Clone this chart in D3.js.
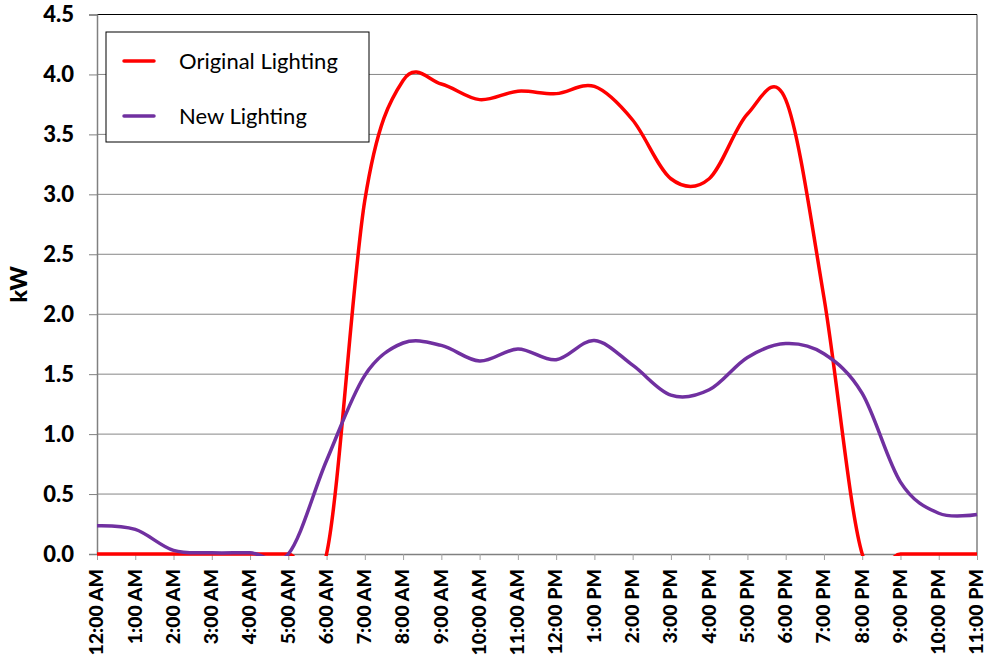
<!DOCTYPE html>
<html>
<head>
<meta charset="utf-8">
<script src="https://cdn.jsdelivr.net/npm/d3@7"></script>
<style>
  body { margin: 0; background: #fff; }
  svg { display: block; font-family: Lato, "Open Sans", sans-serif; }
</style>
</head>
<body>
<div id="chart"></div>
<script>
// hours of the day (category labels)
var hours = ["12:00 AM", "1:00 AM", "2:00 AM", "3:00 AM", "4:00 AM", "5:00 AM",
  "6:00 AM", "7:00 AM", "8:00 AM", "9:00 AM", "10:00 AM", "11:00 AM",
  "12:00 PM", "1:00 PM", "2:00 PM", "3:00 PM", "4:00 PM", "5:00 PM",
  "6:00 PM", "7:00 PM", "8:00 PM", "9:00 PM", "10:00 PM", "11:00 PM"]

// kW values
var originalLighting = [0, 0, 0, 0, 0, 0, 0, 2.95, 3.95, 3.92, 3.79, 3.86,
  3.84, 3.90, 3.62, 3.13, 3.13, 3.67, 3.79, 2.14, 0, 0, 0, 0]
var newLighting = [0.236, 0.205, 0.03, 0.01, 0.01, 0, 0.78, 1.49, 1.76, 1.74, 1.61, 1.71,
  1.62, 1.78, 1.575, 1.325, 1.37, 1.64, 1.755, 1.67, 1.34, 0.60, 0.34, 0.33]

var yTicks = [0, 0.5, 1.0, 1.5, 2.0, 2.5, 3.0, 3.5, 4.0, 4.5]

var series = [
  { name: "Original Lighting", values: originalLighting, color: "#ff0000" },
  { name: "New Lighting", values: newLighting, color: "#7030a0" }
]

var width = 987,
    height = 661,
    margin = { top: 14.5, right: 10, bottom: 107, left: 97 }
var innerW = width - margin.left - margin.right,
    innerH = height - margin.top - margin.bottom

var svg = d3.select("#chart")
  .append("svg")
    .attr("width", width)
    .attr("height", height)

var g = svg.append("g")
  .attr("transform", "translate(" + margin.left + "," + margin.top + ")")

var x = d3.scalePoint()
  .domain(hours)
  .range([0, innerW])

var y = d3.scaleLinear()
  .domain([0, 4.5])
  .range([innerH, 0])

// gridlines
g.selectAll(".grid")
  .data(yTicks.slice(1))
  .enter()
  .append("line")
    .attr("x1", 0)
    .attr("x2", innerW)
    .attr("y1", function(d) { return y(d) })
    .attr("y2", function(d) { return y(d) })
    .attr("stroke", "#868686")
    .attr("stroke-width", 1)

// plot border (right + top)
g.append("line")
  .attr("x1", innerW).attr("x2", innerW)
  .attr("y1", 0).attr("y2", innerH)
  .attr("stroke", "#808080").attr("stroke-width", 1.5)
g.append("line")
  .attr("x1", 0).attr("x2", innerW)
  .attr("y1", 0).attr("y2", 0)
  .attr("stroke", "#000").attr("stroke-width", 1)

// y axis
var yAxis = g.append("g")
  .call(d3.axisLeft(y).tickValues(yTicks).tickFormat(d3.format(".1f")).tickSize(8).tickPadding(15))
yAxis.select(".domain").attr("stroke", "#808080").attr("stroke-width", 1.5)
yAxis.selectAll(".tick line").attr("stroke", "#808080")
yAxis.selectAll("text")
  .attr("font-family", "Lato, sans-serif")
  .attr("font-size", "22px")
  .attr("font-weight", "900")
  .attr("fill", "#000")

// x axis
var xAxis = g.append("g")
  .attr("transform", "translate(0," + innerH + ")")
  .call(d3.axisBottom(x).tickSize(6).tickSizeOuter(0))
xAxis.select(".domain").attr("stroke", "#808080").attr("stroke-width", 1.5)
xAxis.selectAll(".tick line").attr("stroke", "#a0a0a0")
xAxis.selectAll("text")
  .attr("font-family", "Lato, sans-serif")
  .attr("font-size", "19.5px")
  .attr("font-weight", "900")
  .attr("fill", "#000")
  .attr("text-anchor", "end")
  .attr("transform", "rotate(-90)")
  .attr("x", -15)
  .attr("y", 0)
  .attr("dy", "0.3em")

// axis title
svg.append("text")
  .attr("transform", "translate(27," + (margin.top + innerH / 2) + ") rotate(-90)")
  .attr("text-anchor", "middle")
  .attr("font-size", "23px")
  .attr("font-weight", "900")
  .text("kW")

// clip so the smoothed lines are cut at 0
svg.append("clipPath")
    .attr("id", "plot-clip")
  .append("rect")
    .attr("x", 0)
    .attr("y", 0)
    .attr("width", innerW + 2)
    .attr("height", innerH + 2)

var line = d3.line()
  .x(function(d, i) { return x(hours[i]) })
  .y(function(d) { return y(d) })
  .curve(d3.curveCatmullRom.alpha(0))

g.append("g")
  .attr("clip-path", "url(#plot-clip)")
  .selectAll("path")
  .data(series)
  .enter()
  .append("path")
    .attr("d", function(d) { return line(d.values) })
    .attr("fill", "none")
    .attr("stroke", function(d) { return d.color })
    .attr("stroke-width", 3.5)
    .attr("stroke-linejoin", "round")

// legend
var legend = svg.append("g")
  .attr("transform", "translate(106,32)")
legend.append("rect")
  .attr("width", 263)
  .attr("height", 110)
  .attr("fill", "#fff")
  .attr("stroke", "#000")
  .attr("stroke-width", 1)

var items = legend.selectAll(".item")
  .data(series)
  .enter()
  .append("g")
    .attr("transform", function(d, i) { return "translate(0," + (29 + i * 55) + ")" })
items.append("line")
  .attr("x1", 18).attr("x2", 48)
  .attr("stroke", function(d) { return d.color })
  .attr("stroke-width", 3.5)
  .attr("stroke-linecap", "round")
items.append("text")
  .attr("x", 73)
  .attr("dy", "0.35em")
  .attr("font-size", "22px")
  .attr("fill", "#000")
  .text(function(d) { return d.name })
</script>
</body>
</html>
